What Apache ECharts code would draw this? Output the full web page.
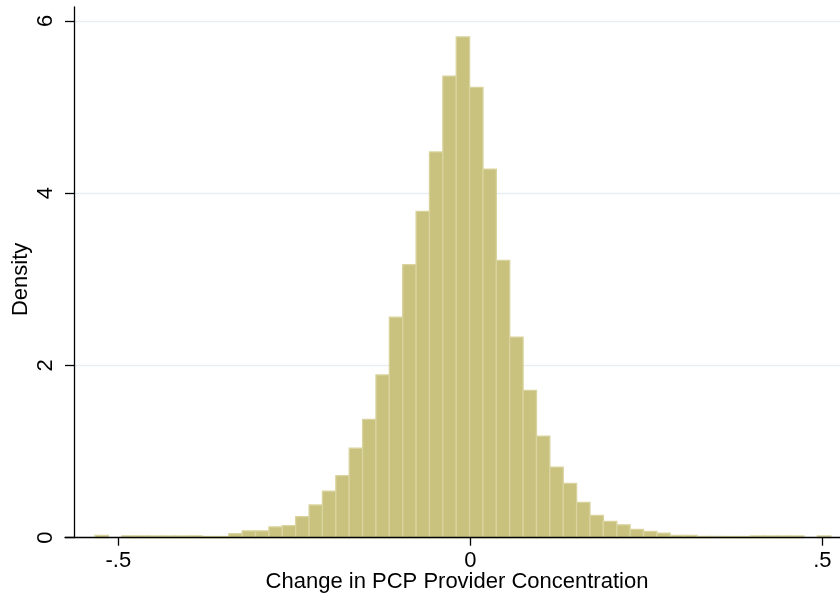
<!DOCTYPE html>
<html>
<head>
<meta charset="utf-8">
<script src="https://cdn.jsdelivr.net/npm/echarts@6/dist/echarts.min.js"></script>
<style>
  html, body { margin: 0; padding: 0; background: #fff; }
  #chart { width: 840px; height: 598px; }
</style>
</head>
<body>
<div id="chart"></div>
<script>
// Histogram of the change in PCP provider concentration (density scale)
const binStart = -0.533;   // left edge of the first bin
const binWidth = 0.019;    // width of every bin
const densities = [
  0.027, 0, 0.022, 0.022, 0.02, 0.02, 0.02, 0.022, 0.014, 0.014,
  0.048, 0.08, 0.08, 0.125, 0.14, 0.245, 0.38, 0.54, 0.72, 1.04,
  1.375, 1.89, 2.56, 3.17, 3.79, 4.48, 5.36, 5.815, 5.23, 4.28,
  3.22, 2.33, 1.71, 1.18, 0.82, 0.63, 0.41, 0.26, 0.19, 0.15,
  0.097, 0.073, 0.054, 0.027, 0.027, 0.016, 0.016, 0.014, 0.014, 0.02,
  0.02, 0.02, 0.02, 0, 0.02
];
const xTicks = [-0.5, 0, 0.5];
const yTicks = [0, 2, 4, 6];
const xTitle = 'Change in PCP Provider Concentration';
const yTitle = 'Density';

const bins = densities.map((d, i) => [binStart + i * binWidth, binStart + (i + 1) * binWidth, d]);

const FONT = '"Liberation Sans", Arial, Helvetica, sans-serif';
const FS = 22;
const X_MIN = -0.5629, X_MAX = 0.5251;
const X_MIN_WIDE = -0.5757;

const chart = echarts.init(document.getElementById('chart'), null, { renderer: 'canvas' });

chart.setOption({
  animation: false,
  backgroundColor: '#ffffff',
  grid: [
    { left: 74, right: 0, top: 21, bottom: 60.3, outerBoundsMode: 'none', containLabel: false },
    { left: 65, right: 0, top: 7, bottom: 60.3, outerBoundsMode: 'none', containLabel: false },
    { left: 74, right: 0, top: 7, bottom: 60.3, outerBoundsMode: 'none', containLabel: false }
  ],
  xAxis: [
    {
      gridIndex: 0, type: 'value', min: X_MIN, max: X_MAX,
      name: xTitle, nameLocation: 'middle', nameGap: 33, nameMoveOverlap: false,
      nameTextStyle: { fontFamily: FONT, fontSize: FS, color: '#000' },
      axisLine: { show: false, onZero: false },
      axisTick: { show: true, length: 8, customValues: xTicks, lineStyle: { color: '#000', width: 1.3 } },
      axisLabel: {
        show: true, customValues: xTicks, margin: 12,
        fontFamily: FONT, fontSize: FS, color: '#000',
        formatter: v => String(v).replace('0.', '.')
      },
      splitLine: { show: false },
      z: 10
    },
    {
      gridIndex: 1, type: 'value', min: X_MIN_WIDE, max: X_MAX,
      axisLine: { show: true, onZero: false, lineStyle: { color: '#000', width: 1.3 } },
      axisTick: { show: false }, axisLabel: { show: false }, splitLine: { show: false },
      z: 10
    },
    {
      gridIndex: 2, type: 'value', min: X_MIN, max: X_MAX,
      axisLine: { show: false, onZero: false }, axisTick: { show: false }, axisLabel: { show: false }, splitLine: { show: false }
    }
  ],
  yAxis: [
    {
      gridIndex: 0, type: 'value', min: 0, max: 6, interval: 2,
      name: yTitle, nameLocation: 'middle', nameGap: 42, nameRotate: 90, nameMoveOverlap: false,
      nameTextStyle: { fontFamily: FONT, fontSize: FS, color: '#000' },
      axisLine: { show: false, onZero: false },
      axisTick: { show: true, length: 9, customValues: yTicks, lineStyle: { color: '#000', width: 1.3 } },
      axisLabel: { show: true, customValues: yTicks, rotate: 90, margin: 17, fontFamily: FONT, fontSize: FS, color: '#000' },
      splitLine: { show: true, lineStyle: { color: '#e6eef1', width: 1.3 } }
    },
    {
      gridIndex: 1, type: 'value', min: 0, max: 1,
      axisLine: { show: false, onZero: false }, axisTick: { show: false }, axisLabel: { show: false }, splitLine: { show: false }
    },
    {
      gridIndex: 2, type: 'value', min: 0, max: 1,
      axisLine: { show: true, onZero: false, lineStyle: { color: '#000', width: 1.3 } },
      axisTick: { show: false }, axisLabel: { show: false }, splitLine: { show: false },
      z: 10
    }
  ],
  series: [
    {
      type: 'custom',
      xAxisIndex: 0, yAxisIndex: 0,
      data: bins,
      encode: { x: [0, 1], y: 2 },
      renderItem: function (params, api) {
        const d = api.value(2);
        if (d <= 0) return null;
        const p0 = api.coord([api.value(0), d]);
        const p1 = api.coord([api.value(1), 0]);
        return {
          type: 'rect',
          shape: { x: p0[0], y: p0[1], width: p1[0] - p0[0], height: p1[1] - p0[1] },
          style: { fill: '#c9c27e', stroke: '#d9d39e', lineWidth: 1.3 }
        };
      },
      z: 3
    }
  ]
});
</script>
</body>
</html>
